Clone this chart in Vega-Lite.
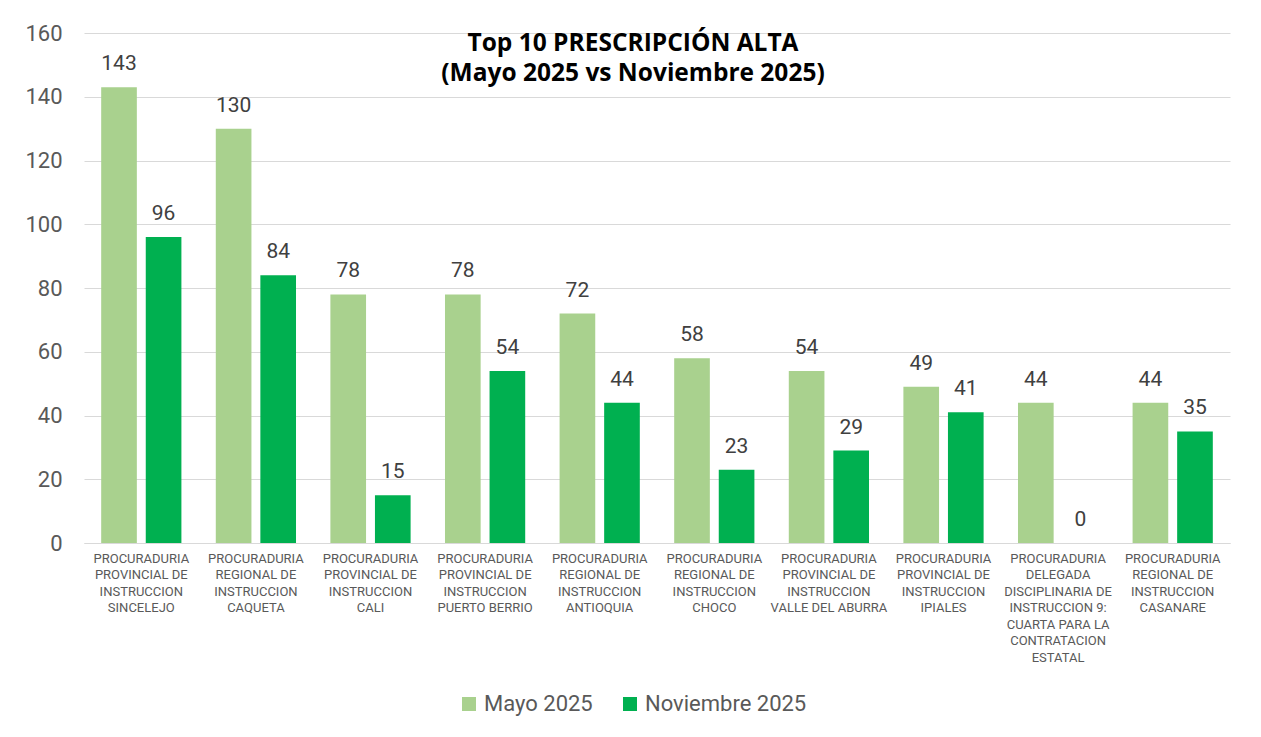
{
  "$schema": "https://vega.github.io/schema/vega-lite/v6.json",
  "autosize": "none",
  "width": 1146,
  "height": 510,
  "padding": {"left": 84, "top": 33, "right": 31, "bottom": 194},
  "background": "#ffffff",
  "config": {
    "view": {"stroke": null},
    "font": "Roboto"
  },
  "title": {
    "text": ["Top 10 PRESCRIPCIÓN ALTA", "(Mayo 2025 vs Noviembre 2025)"],
    "anchor": "middle",
    "orient": "top",
    "offset": -64,
    "font": "Open Sans",
    "fontSize": 24.5,
    "fontWeight": "bold",
    "color": "#000000",
    "lineHeight": 30,
    "dx": -24
  },
  "data": {
    "values": [
      {"cat": "PROCURADURIA|PROVINCIAL DE|INSTRUCCION|SINCELEJO", "serie": "Mayo 2025", "valor": 143},
      {"cat": "PROCURADURIA|PROVINCIAL DE|INSTRUCCION|SINCELEJO", "serie": "Noviembre 2025", "valor": 96},
      {"cat": "PROCURADURIA|REGIONAL DE|INSTRUCCION|CAQUETA", "serie": "Mayo 2025", "valor": 130},
      {"cat": "PROCURADURIA|REGIONAL DE|INSTRUCCION|CAQUETA", "serie": "Noviembre 2025", "valor": 84},
      {"cat": "PROCURADURIA|PROVINCIAL DE|INSTRUCCION|CALI", "serie": "Mayo 2025", "valor": 78},
      {"cat": "PROCURADURIA|PROVINCIAL DE|INSTRUCCION|CALI", "serie": "Noviembre 2025", "valor": 15},
      {"cat": "PROCURADURIA|PROVINCIAL DE|INSTRUCCION|PUERTO BERRIO", "serie": "Mayo 2025", "valor": 78},
      {"cat": "PROCURADURIA|PROVINCIAL DE|INSTRUCCION|PUERTO BERRIO", "serie": "Noviembre 2025", "valor": 54},
      {"cat": "PROCURADURIA|REGIONAL DE|INSTRUCCION|ANTIOQUIA", "serie": "Mayo 2025", "valor": 72},
      {"cat": "PROCURADURIA|REGIONAL DE|INSTRUCCION|ANTIOQUIA", "serie": "Noviembre 2025", "valor": 44},
      {"cat": "PROCURADURIA|REGIONAL DE|INSTRUCCION|CHOCO", "serie": "Mayo 2025", "valor": 58},
      {"cat": "PROCURADURIA|REGIONAL DE|INSTRUCCION|CHOCO", "serie": "Noviembre 2025", "valor": 23},
      {"cat": "PROCURADURIA|PROVINCIAL DE|INSTRUCCION|VALLE DEL ABURRA", "serie": "Mayo 2025", "valor": 54},
      {"cat": "PROCURADURIA|PROVINCIAL DE|INSTRUCCION|VALLE DEL ABURRA", "serie": "Noviembre 2025", "valor": 29},
      {"cat": "PROCURADURIA|PROVINCIAL DE|INSTRUCCION|IPIALES", "serie": "Mayo 2025", "valor": 49},
      {"cat": "PROCURADURIA|PROVINCIAL DE|INSTRUCCION|IPIALES", "serie": "Noviembre 2025", "valor": 41},
      {"cat": "PROCURADURIA|DELEGADA|DISCIPLINARIA DE|INSTRUCCION 9:|CUARTA PARA LA|CONTRATACION|ESTATAL", "serie": "Mayo 2025", "valor": 44},
      {"cat": "PROCURADURIA|DELEGADA|DISCIPLINARIA DE|INSTRUCCION 9:|CUARTA PARA LA|CONTRATACION|ESTATAL", "serie": "Noviembre 2025", "valor": 0},
      {"cat": "PROCURADURIA|REGIONAL DE|INSTRUCCION|CASANARE", "serie": "Mayo 2025", "valor": 44},
      {"cat": "PROCURADURIA|REGIONAL DE|INSTRUCCION|CASANARE", "serie": "Noviembre 2025", "valor": 35}
    ]
  },
  "encoding": {
    "x": {
      "field": "cat",
      "type": "nominal",
      "sort": null,
      "scale": {"paddingInner": 0.3, "paddingOuter": 0.15},
      "axis": {
        "title": null,
        "labelAngle": 0,
        "labelExpr": "split(datum.value, '|')",
        "labelFontSize": 13,
        "labelLineHeight": 16.5,
        "labelColor": "#595959",
        "labelPadding": 9,
        "labelBaseline": "top",
        "domain": true,
        "domainColor": "#d9d9d9",
        "domainWidth": 1,
        "ticks": false,
        "grid": false,
        "labelLimit": 200
      }
    },
    "xOffset": {
      "field": "serie",
      "type": "nominal",
      "sort": ["Mayo 2025", "Noviembre 2025"],
      "scale": {"paddingInner": 0.2, "paddingOuter": 0}
    },
    "y": {
      "field": "valor",
      "type": "quantitative",
      "scale": {"domain": [0, 160], "nice": false},
      "axis": {
        "title": null,
        "values": [0, 20, 40, 60, 80, 100, 120, 140, 160],
        "labelFontSize": 22,
        "labelColor": "#595959",
        "labelPadding": 22,
        "domain": false,
        "ticks": false,
        "grid": true,
        "gridColor": "#d9d9d9",
        "gridWidth": 1
      }
    }
  },
  "layer": [
    {
      "mark": {"type": "bar"},
      "encoding": {
        "color": {
          "field": "serie",
          "type": "nominal",
          "scale": {"domain": ["Mayo 2025", "Noviembre 2025"], "range": ["#A9D18E", "#00B050"]},
          "legend": {
            "title": null,
            "orient": "none",
            "legendX": 374,
            "legendY": 660,
            "direction": "horizontal",
            "symbolType": "square",
            "symbolSize": 196,
            "symbolStrokeWidth": 0,
            "labelFontSize": 22,
            "labelColor": "#595959",
            "labelOffset": 4,
            "labelLimit": 300,
            "columnPadding": 26
          }
        }
      }
    },
    {
      "mark": {"type": "text", "baseline": "alphabetic", "dy": -17, "fontSize": 21, "color": "#404040"},
      "encoding": {
        "text": {"field": "valor", "type": "quantitative"}
      }
    }
  ]
}
